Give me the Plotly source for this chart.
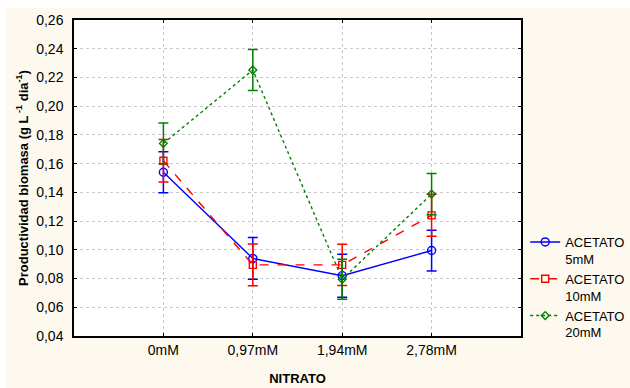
import plotly.graph_objects as go

categories = ["0mM", "0,97mM", "1,94mM", "2,78mM"]
series_names = ["ACETATO<br>5mM", "ACETATO<br>10mM", "ACETATO<br>20mM"]

acetato_5 = [0.154, 0.094, 0.082, 0.0995]
acetato_5_err = [0.0143, 0.0145, 0.0150, 0.0142]
acetato_10 = [0.162, 0.0895, 0.0895, 0.124]
acetato_10_err = [0.0148, 0.0145, 0.0143, 0.0146]
acetato_20 = [0.1741, 0.2252, 0.0795, 0.1388]
acetato_20_err = [0.0142, 0.0143, 0.0140, 0.0143]

y_ticks = [0.04, 0.06, 0.08, 0.10, 0.12, 0.14, 0.16, 0.18, 0.20, 0.22, 0.24, 0.26]

styles = [
    dict(color="#0000ff", dash="solid", symbol="circle-open", size=8),
    dict(color="#ff0000", dash="dash", symbol="square-open", size=7),
    dict(color="#008000", dash="dot", symbol="diamond-open", size=6),
]

x_idx = list(range(len(categories)))
fig = go.Figure()
for name, vals, errs, st in zip(series_names,
                                [acetato_5, acetato_10, acetato_20],
                                [acetato_5_err, acetato_10_err, acetato_20_err],
                                styles):
    fig.add_trace(go.Scatter(
        x=x_idx, y=vals, name=name, mode="lines+markers",
        line=dict(color=st["color"], dash=st["dash"], width=1.4),
        marker=dict(symbol=st["symbol"], size=st["size"], color=st["color"],
                    line=dict(width=1.4, color=st["color"])),
        error_y=dict(type="data", array=errs, visible=True, color=st["color"],
                     thickness=1.5, width=5),
    ))

cream = "#fdf9ee"
fig.update_layout(
    width=630, height=388,
    margin=dict(l=74, r=109, t=20, b=52, autoexpand=False),
    paper_bgcolor=cream, plot_bgcolor="white",
    separators=",.",
    font=dict(family="Liberation Sans, Arial, sans-serif", size=14, color="black"),
    showlegend=True,
    legend=dict(x=1.0094, y=0.345, xanchor="left", yanchor="top",
                bgcolor="rgba(0,0,0,0)", font=dict(size=13),
                tracegroupgap=0, itemwidth=30, valign="top"),
    shapes=[
        dict(type="rect", xref="paper", yref="paper",
             x0=-74/447, x1=(630-74)/447, y0=1+12/316, y1=1+20/316,
             fillcolor="white", line=dict(width=0), layer="below"),
        dict(type="rect", xref="paper", yref="paper",
             x0=-74/447, x1=-68/447, y0=-52/316, y1=1+20/316,
             fillcolor="white", line=dict(width=0), layer="below"),
    ],
)
fig.update_xaxes(
    range=[-1, 4], tickmode="array", tickvals=x_idx, ticktext=categories,
    showline=True, linecolor="black", linewidth=1.5, mirror="ticks",
    ticks="inside", ticklen=3, tickcolor="black",
    showgrid=True, gridcolor="#c8c8c8", griddash="dot", gridwidth=1,
    zeroline=False,
    title=dict(text="<b>NITRATO</b>", standoff=17, font=dict(size=13)),
    tickfont=dict(size=14),
)
fig.update_yaxes(
    range=[0.04, 0.26], tickmode="array", tickvals=y_ticks, tickformat=".2f",
    showline=True, linecolor="black", linewidth=1.5, mirror="ticks",
    ticks="inside", ticklen=3, tickcolor="black", ticklabelstandoff=6,
    showgrid=True, gridcolor="#c8c8c8", griddash="dot", gridwidth=1,
    zeroline=False,
    title=dict(text="<b>Productividad biomasa (g L<sup> -1</sup> dia<sup>-1</sup>)</b>",
               standoff=5, font=dict(size=13)),
    tickfont=dict(size=14),
)

fig.write_html("out.html",
               config={"displayModeBar": False},
               post_script="document.body.style.margin='0';document.body.style.overflow='hidden';")
